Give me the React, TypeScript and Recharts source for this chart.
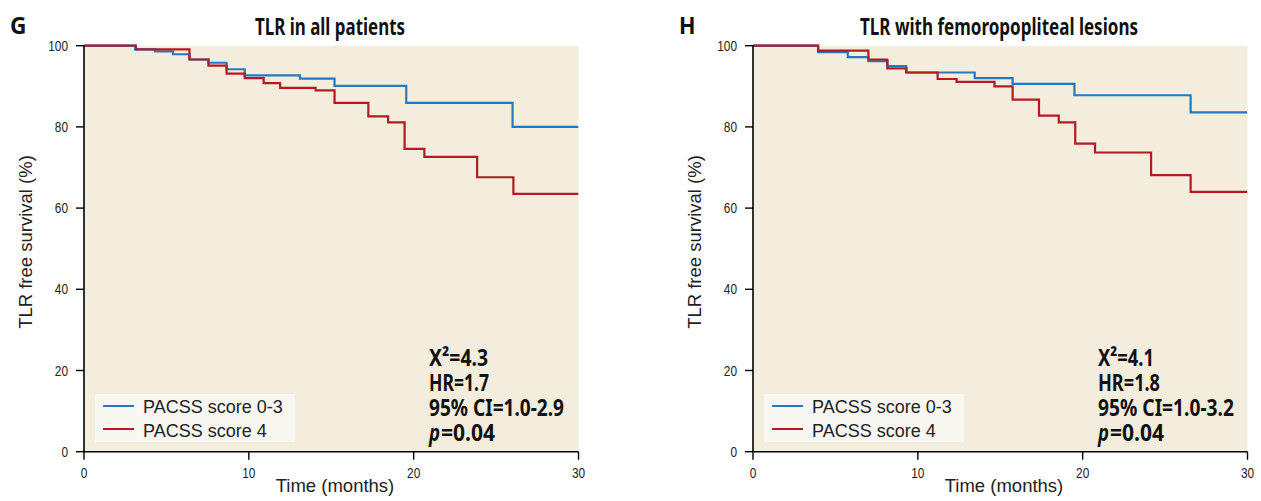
import React from "react";
import { LineChart, Line, XAxis, YAxis, CartesianGrid } from "recharts";

// Panel G: TLR in all patients (months, % free)
const gBlueT = [0, 3.1, 4.3, 5.4, 6.4, 7.55, 8.65, 9.75, 13.1, 15.2, 19.55, 26.0, 30];
const gBlueS = [100, 99.1, 98.6, 97.9, 96.6, 95.8, 94.2, 92.7, 91.9, 90.1, 85.9, 80.0, 80.0];
const gRedT = [0, 3.15, 6.4, 7.55, 8.65, 9.75, 10.9, 11.9, 14.05, 15.2, 17.25, 18.45, 19.45, 20.65, 23.85, 26.05, 30];
const gRedS = [100, 99.1, 96.6, 95.1, 93.1, 92.0, 90.8, 89.6, 89.0, 85.9, 82.6, 81.1, 74.6, 72.6, 67.6, 63.5, 63.5];

// Panel H: TLR with femoropopliteal lesions
const hBlueT = [0, 3.95, 5.75, 7.0, 8.15, 9.3, 13.45, 15.75, 19.5, 26.55, 30];
const hBlueS = [100, 98.4, 97.2, 96.2, 95.0, 93.4, 92.0, 90.6, 87.8, 83.6, 83.6];
const hRedT = [0, 3.95, 7.0, 8.15, 9.3, 11.2, 12.35, 14.65, 15.75, 17.35, 18.55, 19.55, 20.75, 24.15, 26.55, 30];
const hRedS = [100, 98.8, 96.6, 94.4, 93.4, 91.8, 91.1, 90.0, 86.7, 82.8, 81.1, 75.9, 73.7, 68.1, 64.0, 64.0];

const seriesNames = ["PACSS score 0-3", "PACSS score 4"];
const seriesColors = ["#2679be", "#b31b20"];
const xTicks = [0, 10, 20, 30];
const yTicks = [0, 20, 40, 60, 80, 100];

const gStats = ["4.3", "1.7", "1.0-2.9", "0.04"];
const hStats = ["4.1", "1.8", "1.0-3.2", "0.04"];
// measured pixel widths of the stat lines
const gStatW = [59, 60, 135, 54];
const hStatW = [56, 62, 136, 54];

const BG = "#f2eddc";
const COND = "'Noto Sans', 'DejaVu Sans', sans-serif";
const SANS = "'Liberation Sans', Arial, sans-serif";
const condStyle = { fontStretch: "extra-condensed" } as React.CSSProperties;

const toPts = (t: number[], s: number[]) => t.map((x, i) => ({ t: x, s: s[i] }));

// narrow numeric tick labels
function NarrowTick(props: any) {
  const { x, y, payload, textAnchor, isX } = props;
  const label = String(payload.value);
  return (
    <text
      x={x}
      y={y}
      dy={isX ? "0.71em" : "0.36em"}
      textAnchor={textAnchor}
      fontFamily={SANS}
      fontSize={isX ? 15 : 14}
      fill="#222"
      textLength={label.length * 6.6}
      lengthAdjust="spacingAndGlyphs"
    >
      {label}
    </text>
  );
}

interface PanelProps {
  left: number;
  ox: number; // x of the y axis inside the panel
  letter: string;
  title: string;
  titleW: number;
  curves: { t: number; s: number }[][];
  stats: string[];
  statW: number[];
}

const W = 630;
const H = 501;

function Panel({ left, ox, letter, title, titleW, curves, stats, statW }: PanelProps) {
  const plotRight = ox + 494.5;
  const yAxisW = 60;
  const statLines = [`X²=${stats[0]}`, `HR=${stats[1]}`, `95% CI=${stats[2]}`];
  return (
    <div style={{ position: "absolute", left, top: 0, width: W, height: H }}>
      <LineChart
        width={W}
        height={H}
        margin={{ top: 45.7, right: W - plotRight, left: ox - yAxisW, bottom: 19.3 }}
      >
        <CartesianGrid horizontal={false} vertical={false} fill={BG} fillOpacity={1} stroke="none" />
        <XAxis
          type="number"
          dataKey="t"
          domain={[0, 30]}
          ticks={xTicks}
          height={30}
          tickSize={8}
          tickMargin={8}
          axisLine={{ stroke: "#000", strokeWidth: 1.6 }}
          tickLine={{ stroke: "#000", strokeWidth: 1.4 }}
          tick={<NarrowTick isX />}
          allowDataOverflow
        />
        <YAxis
          type="number"
          domain={[0, 100]}
          ticks={yTicks}
          width={yAxisW}
          tickSize={8}
          tickMargin={8}
          axisLine={{ stroke: "#000", strokeWidth: 1.6 }}
          tickLine={{ stroke: "#000", strokeWidth: 1.4 }}
          tick={<NarrowTick />}
        />
        {curves.map((c, i) => (
          <Line
            key={seriesNames[i]}
            data={c}
            dataKey="s"
            name={seriesNames[i]}
            type="stepAfter"
            stroke={seriesColors[i]}
            strokeWidth={2.2}
            dot={false}
            activeDot={false}
            isAnimationActive={false}
          />
        ))}
      </LineChart>
      <svg
        width={W}
        height={H}
        style={{ position: "absolute", left: 0, top: 0, pointerEvents: "none" }}
      >
        <text
          x={ox - 74}
          y={33.5}
          fontFamily={COND}
          fontWeight="bold"
          fontSize={24}
          fill="#111"
          style={condStyle}
          textLength={16.5}
          lengthAdjust="spacingAndGlyphs"
        >
          {letter}
        </text>
        <text
          x={ox + 246}
          y={35}
          textAnchor="middle"
          fontFamily={COND}
          fontWeight="bold"
          fontSize={23}
          fill="#111"
          style={condStyle}
          textLength={titleW}
          lengthAdjust="spacingAndGlyphs"
        >
          {title}
        </text>
        <text
          x={ox - 52}
          y={242}
          transform={`rotate(-90 ${ox - 52} 242)`}
          textAnchor="middle"
          fontFamily={SANS}
          fontSize={18.5}
          fill="#222"
        >
          TLR free survival (%)
        </text>
        <text x={ox + 251} y={492} textAnchor="middle" fontFamily={SANS} fontSize={18.5} fill="#222">
          Time (months)
        </text>
        <rect x={ox + 11} y={394} width={200} height={48} fill="#f9f7f1" />
        {seriesNames.map((n, i) => (
          <g key={n}>
            <line
              x1={ox + 19}
              x2={ox + 50}
              y1={406 + i * 23}
              y2={406 + i * 23}
              stroke={seriesColors[i]}
              strokeWidth={2}
            />
            <text x={ox + 59} y={413 + i * 23.5} fontFamily={SANS} fontSize={18} fill="#222">
              {n}
            </text>
          </g>
        ))}
        <g fontFamily={COND} fontWeight="bold" fontSize={23} fill="#111" style={condStyle}>
          {statLines.map((s, i) => (
            <text
              key={s}
              x={ox + 345}
              y={366 + i * 25}
              textLength={statW[i]}
              lengthAdjust="spacingAndGlyphs"
            >
              {s}
            </text>
          ))}
          <text x={ox + 345} y={441} fontStyle="italic" textLength={11} lengthAdjust="spacingAndGlyphs">
            p
          </text>
          <text x={ox + 357} y={441} textLength={statW[3]} lengthAdjust="spacingAndGlyphs">
            ={stats[3]}
          </text>
        </g>
      </svg>
    </div>
  );
}

export default function App() {
  return (
    <div
      style={{
        position: "absolute",
        left: 0,
        top: 0,
        width: 1261,
        height: 501,
        background: "#fff",
        overflow: "hidden",
      }}
    >
      <Panel
        left={0}
        ox={84}
        letter="G"
        title="TLR in all patients"
        titleW={150}
        curves={[toPts(gBlueT, gBlueS), toPts(gRedT, gRedS)]}
        stats={gStats}
        statW={gStatW}
      />
      <Panel
        left={630}
        ox={123}
        letter="H"
        title="TLR with femoropopliteal lesions"
        titleW={278}
        curves={[toPts(hBlueT, hBlueS), toPts(hRedT, hRedS)]}
        stats={hStats}
        statW={hStatW}
      />
    </div>
  );
}
